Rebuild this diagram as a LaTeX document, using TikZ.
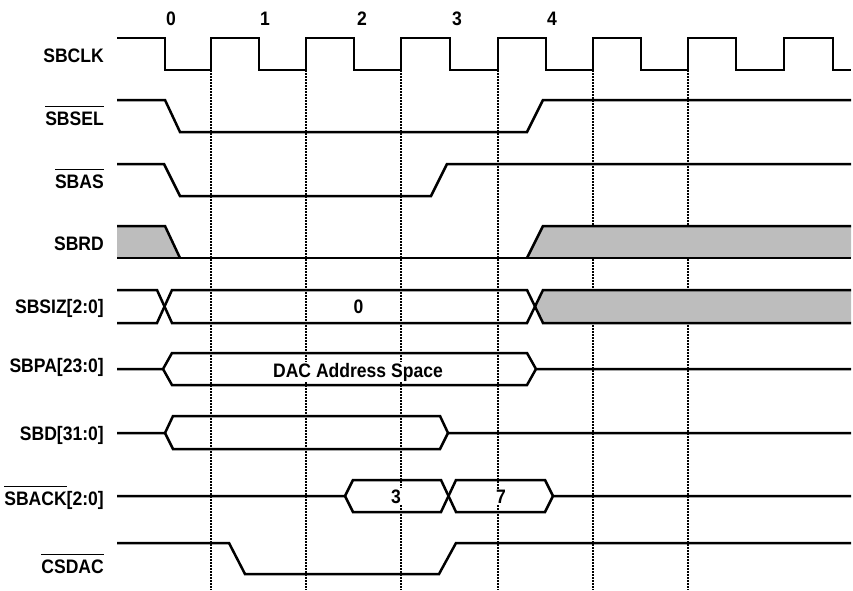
\documentclass[tikz,border=0pt]{standalone}
\usepackage{fontspec}
\setmainfont{Liberation Sans}[FakeStretch=0.9]
\newcommand\ovl[1]{\leavevmode\vbox{\hrule height 1.8pt\kern 4.0pt\hbox{#1}}}
\begin{document}
\begin{tikzpicture}[x=1pt,y=-1pt,
  wave/.style={line width=2.5pt, line join=miter, miter limit=4},
  gridline/.style={line width=1.3pt, dash pattern=on 1.6pt off 1.4pt},
  shade/.style={fill=black!26},
  txt/.style={font=\fontsize{19.5}{21}\selectfont\bfseries},
  sig/.style={txt, anchor=base east, inner sep=0pt},
  val/.style={txt, anchor=base, inner sep=1pt, fill=white},
  cyc/.style={txt, anchor=base, inner sep=0pt}]
\useasboundingbox (0,0) rectangle (853,590);

% dotted reference lines
\foreach \x/\n in {211/a,306/b,401/c,498/d,593/e,688/f}{
  \coordinate (top\n) at (\x,70);
  \coordinate (bot\n) at (\x,590);
  \draw[gridline] (top\n) -- (bot\n);
}

% cycle numbers
\node[cyc] (c0) at (171,25) {0};
\node[cyc] (c1) at (265,25) {1};
\node[cyc] (c2) at (362,25) {2};
\node[cyc] (c3) at (457,25) {3};
\node[cyc] (c4) at (552,25) {4};

% signal names
\node[sig] (nclk)  at (104,62)  {SBCLK};
\node[sig] (nsel)  at (104,125) {\ovl{SBSEL}};
\node[sig] (nas)   at (104,188) {\ovl{SBAS}};
\node[sig] (nrd)   at (104,250) {SBRD};
\node[sig] (nsiz)  at (104,313) {SBSIZ[2:0]};
\node[sig] (npa)   at (104,372) {SBPA[23:0]};
\node[sig] (nd)    at (104,440) {SBD[31:0]};
\node[sig] (nack)  at (104,505) {\ovl{SBACK}[2:0]};
\node[sig] (ncs)   at (104,573) {\ovl{CSDAC}};

% SBCLK
\draw[wave] (117,38) -- (165,38) -- (165,70) -- (211,70) -- (211,38) -- (259,38) -- (259,70)
  -- (306,70) -- (306,38) -- (354,38) -- (354,70) -- (401,70) -- (401,38) -- (450,38) -- (450,70)
  -- (498,70) -- (498,38) -- (546,38) -- (546,70) -- (593,70) -- (593,38) -- (641,38) -- (641,70)
  -- (688,70) -- (688,38) -- (736,38) -- (736,70) -- (784,70) -- (784,38) -- (833,38) -- (833,70)
  -- (851,70);

% SBSEL
\draw[wave] (117,100) -- (165,100) -- (180,132) -- (527,132) -- (543,100) -- (851,100);

% SBAS
\draw[wave] (117,164) -- (164,164) -- (180,196) -- (431,196) -- (447,164) -- (851,164);

% SBRD
\fill[shade] (117,226) -- (165,226) -- (180,258) -- (117,258) -- cycle;
\fill[shade] (527,258) -- (543,226) -- (851,226) -- (851,258) -- cycle;
\draw[wave] (117,226) -- (165,226) -- (180,258);
\draw[wave] (527,258) -- (543,226) -- (851,226);
\draw[wave] (117,258) -- (851,258);

% SBSIZ[2:0]
\fill[shade] (535,306.5) -- (543,290) -- (851,290) -- (851,323) -- (543,323) -- cycle;
\draw[wave] (117,290) -- (157,290) -- (172,323) -- (527,323) -- (543,290) -- (851,290);
\draw[wave] (117,323) -- (157,323) -- (172,290) -- (527,290) -- (543,323) -- (851,323);
\node[val] (vsiz) at (358.5,313) {0};

% SBPA[23:0]
\draw[wave] (117,369) -- (163,369) -- (172,353) -- (527,353) -- (536,369) -- (851,369);
\draw[wave] (163,369) -- (172,385) -- (527,385) -- (536,369);
\node[val] (vpa) at (358,377) {DAC Address Space};

% SBD[31:0]
\draw[wave] (117,433) -- (165,433) -- (173,416) -- (440,416) -- (448,433) -- (851,433);
\draw[wave] (165,433) -- (173,449) -- (440,449) -- (448,433);

% SBACK[2:0]
\draw[wave] (117,496) -- (345,496) -- (353,480) -- (441,480) -- (456,512) -- (545,512) -- (553,496) -- (851,496);
\draw[wave] (345,496) -- (353,512) -- (441,512) -- (456,480) -- (545,480) -- (553,496);
\node[val] (vack3) at (396,503) {3};
\node[val] (vack7) at (501,503) {7};

% CSDAC
\draw[wave] (117,543) -- (229,543) -- (245,574) -- (439,574) -- (456,543) -- (851,543);
\end{tikzpicture}
\end{document}
